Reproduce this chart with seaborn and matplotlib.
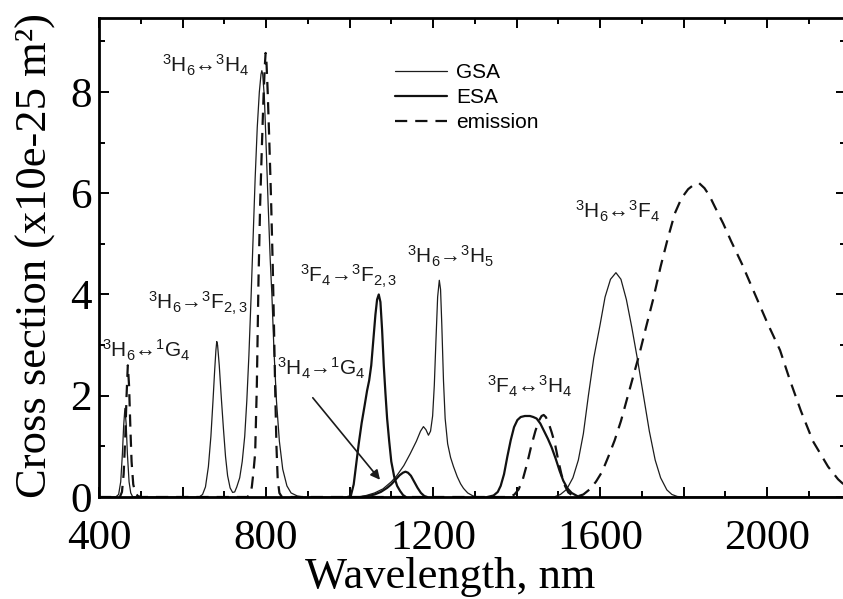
import matplotlib
matplotlib.use("Agg")
import matplotlib.pyplot as plt
from matplotlib.ticker import MultipleLocator, FuncFormatter
from matplotlib.lines import Line2D
import seaborn as sns

# ---- ground-state absorption (GSA), thin line ----
gsa_nm = [400, 440, 447, 452, 456, 459, 462, 465, 468, 472, 476, 481,
          640, 648, 655, 662, 668, 673, 677, 680, 682, 684, 688, 693, 698, 703, 708, 714, 720, 725,
          730, 737, 743, 749, 754, 759, 764, 769, 774, 779, 784, 788, 790, 792, 796, 800, 805, 810,
          814, 819, 825, 832, 840, 850, 860, 875, 890,
          1020, 1040, 1060, 1080, 1100, 1113, 1130, 1145, 1160, 1170, 1177, 1183, 1189, 1194, 1199,
          1203, 1207, 1211, 1215, 1218, 1221, 1225, 1229, 1235, 1242, 1249, 1258, 1266, 1273, 1283,
          1296, 1310,
          1490, 1505, 1520, 1535, 1548, 1560, 1572, 1585, 1600, 1612, 1625, 1638, 1650, 1663, 1676,
          1690, 1704, 1718, 1732, 1745, 1760, 1772, 1785, 1800, 2190]
gsa_val = [0, 0, 0.05, 0.3, 0.85, 1.4, 1.75, 1.45, 0.85, 0.3, 0.08, 0,
           0, 0.05, 0.2, 0.6, 1.2, 1.9, 2.5, 2.9, 3.07, 3.0, 2.6, 1.95, 1.35, 0.8, 0.42, 0.18, 0.09, 0.1,
           0.2, 0.38, 0.7, 1.2, 1.9, 2.8, 3.9, 5.1, 6.3, 7.3, 8.0, 8.35, 8.42, 8.35, 7.9, 7.0, 5.8, 4.7,
           4.0, 2.9, 1.9, 1.1, 0.55, 0.22, 0.08, 0.02, 0,
           0, 0.03, 0.08, 0.16, 0.3, 0.42, 0.62, 0.85, 1.1, 1.3, 1.39, 1.33, 1.22, 1.3, 1.6,
           2.2, 3.1, 3.95, 4.28, 4.1, 3.4, 2.3, 1.55, 1.05, 0.78, 0.6, 0.4, 0.26, 0.17, 0.08,
           0.02, 0,
           0, 0.05, 0.15, 0.38, 0.73, 1.25, 2.0, 2.75, 3.4, 3.95, 4.3, 4.43, 4.3, 3.9, 3.35,
           2.7, 2.0, 1.3, 0.73, 0.38, 0.14, 0.05, 0.01, 0, 0]

# ---- excited-state absorption (ESA), thick line ----
esa_f23_nm = [995, 1003, 1010, 1016, 1022, 1029, 1036, 1042, 1047, 1052, 1057, 1062, 1066, 1070,
              1074, 1078, 1082, 1086, 1090, 1095, 1100, 1107, 1114, 1121, 1128, 1135]
esa_f23_val = [0, 0.02, 0.25, 0.65, 1.05, 1.46, 1.8, 2.1, 2.3, 2.6, 3.1, 3.6, 3.9, 4.0,
               3.85, 3.3, 2.6, 2.05, 1.55, 1.1, 0.7, 0.4, 0.22, 0.12, 0.04, 0]

esa_g4_nm = [1030, 1045, 1060, 1075, 1090, 1100, 1110, 1120, 1128, 1134, 1140, 1147, 1155, 1163,
             1171, 1179, 1186]
esa_g4_val = [0, 0.02, 0.05, 0.1, 0.18, 0.25, 0.34, 0.43, 0.48, 0.5, 0.48, 0.42, 0.3, 0.18,
              0.08, 0.02, 0]

esa_h4_nm = [1330, 1345, 1355, 1362, 1370, 1378, 1386, 1394, 1402, 1410, 1420, 1432, 1440, 1448,
             1457, 1466, 1475, 1484, 1494, 1503, 1512, 1522, 1532, 1545, 1558]
esa_h4_val = [0, 0.03, 0.1, 0.22, 0.45, 0.8, 1.12, 1.38, 1.52, 1.58, 1.6, 1.6, 1.58, 1.55,
              1.45, 1.3, 1.15, 0.98, 0.75, 0.52, 0.32, 0.17, 0.08, 0.02, 0]

# ---- emission, dashed line ----
emis_nm = [400, 450, 455, 459, 463, 466, 469, 472, 475, 478, 482, 487, 493, 500,
           755, 762, 766, 770, 774, 778, 782, 786, 790, 794, 797, 799, 801, 804, 808, 812, 816,
           819, 822, 825, 828, 832, 838,
           1385, 1395, 1405, 1415, 1425, 1435, 1445, 1453, 1460, 1465, 1470, 1476, 1484, 1492,
           1500, 1508, 1516, 1524, 1534, 1545,
           1560, 1575, 1590, 1605, 1620, 1635, 1650, 1665, 1680, 1695, 1710, 1727, 1745, 1762,
           1779, 1795, 1811, 1825, 1837, 1850, 1862, 1875, 1895, 1914, 1940, 1966, 2000, 2031,
           2055, 2081, 2110, 2146, 2170, 2190]
emis_val = [0, 0, 0.1, 0.45, 1.2, 2.0, 2.6, 2.2, 1.4, 0.7, 0.25, 0.08, 0.02, 0,
            0, 0.05, 0.2, 0.5, 0.87, 2.2, 4.3, 5.8, 6.9, 7.9, 8.5, 8.77, 8.6, 8.0, 7.0, 5.9, 4.6,
            3.4, 2.1, 1.0, 0.35, 0.08, 0,
            0, 0.05, 0.15, 0.35, 0.65, 1.0, 1.3, 1.5, 1.6, 1.62, 1.58, 1.48, 1.28, 1.05,
            0.72, 0.43, 0.22, 0.09, 0.03, 0.01,
            0.05, 0.15, 0.3, 0.5, 0.8, 1.12, 1.5, 1.95, 2.4, 2.85, 3.35, 3.9, 4.55, 5.1,
            5.6, 5.9, 6.08, 6.17, 6.2, 6.1, 5.95, 5.73, 5.4, 5.05, 4.6, 4.1, 3.45, 2.9,
            2.3, 1.7, 1.1, 0.6, 0.35, 0.2]

# ---- transition labels: (text, wavelength, cross section) ----
transitions = [
    (r"$^3$H$_6$↔$^3$H$_4$", 551, 8.52),
    (r"$^3$H$_6$→$^3$F$_{2,3}$", 517, 3.83),
    (r"$^3$H$_6$↔$^1$G$_4$", 407, 2.89),
    (r"$^3$H$_4$→$^1$G$_4$", 826, 2.54),
    (r"$^3$F$_4$→$^3$F$_{2,3}$", 881, 4.36),
    (r"$^3$H$_6$→$^3$H$_5$", 1138, 4.75),
    (r"$^3$F$_4$↔$^3$H$_4$", 1329, 2.19),
    (r"$^3$H$_6$↔$^3$F$_4$", 1540, 5.64),
]
x_tick_labels = ["400", "800", "1200", "1600", "2000"]
y_tick_labels = ["0", "2", "4", "6", "8"]

sns.set_theme(style="ticks")
plt.rcParams.update({
    "font.family": ["Liberation Serif", "DejaVu Serif"],
    "mathtext.fontset": "custom",
    "mathtext.rm": "Liberation Sans",
    "mathtext.it": "Liberation Sans:italic",
    "mathtext.bf": "Liberation Sans:bold",
    "axes.linewidth": 2.0,
    "axes.edgecolor": "black",
    "text.color": "black",
    "axes.labelcolor": "black",
    "xtick.color": "black",
    "ytick.color": "black",
})

W, H = 843, 599
fig = plt.figure(figsize=(W / 100, H / 100), dpi=100)
fig.patch.set_facecolor("white")
ax = fig.add_axes([99 / W, (H - 497) / H, (846 - 99) / W, (497 - 18) / H])
ax.set_facecolor("white")

ink = "#111111"
thin = "#1c1c1c"
dash = (0, (5.5, 3.6))
sns.lineplot(x=gsa_nm, y=gsa_val, ax=ax, color=thin, linewidth=0.9, sort=False, estimator=None)
for nm, val in [(esa_f23_nm, esa_f23_val), (esa_g4_nm, esa_g4_val), (esa_h4_nm, esa_h4_val)]:
    sns.lineplot(x=nm, y=val, ax=ax, color=ink, linewidth=1.6, sort=False, estimator=None)
sns.lineplot(x=emis_nm, y=emis_val, ax=ax, color=ink, linewidth=1.6, sort=False,
             estimator=None, linestyle=dash)

ax.set_xlim(400, 2189)
ax.set_ylim(0, 9.46)

# ticks: inward on all four sides
ax.xaxis.set_major_locator(MultipleLocator(200))
ax.xaxis.set_minor_locator(MultipleLocator(100))
ax.yaxis.set_major_locator(MultipleLocator(2))
ax.yaxis.set_minor_locator(MultipleLocator(1))
xl = {int(s): s for s in x_tick_labels}
ax.xaxis.set_major_formatter(FuncFormatter(lambda v, p: xl.get(int(round(v)), "")))
yl = {int(s): s for s in y_tick_labels}
ax.yaxis.set_major_formatter(FuncFormatter(lambda v, p: yl.get(int(round(v)), "")))
ax.tick_params(which="both", direction="in", top=True, right=True, color="black",
               labelcolor="black")
ax.tick_params(which="major", length=7, width=1.4)
ax.tick_params(which="minor", length=4.5, width=1.4)
ax.tick_params(axis="x", which="major", pad=16, labelsize=31)
ax.tick_params(axis="y", which="major", pad=5, labelsize=31)
for sp in ax.spines.values():
    sp.set_visible(True)
    sp.set_linewidth(2.0)

ax.set_xlabel("Wavelength, nm", fontsize=32, color="black")
ax.xaxis.set_label_coords((450 - 99) / 747, -(557 - 497) / 479)
ax.set_ylabel("Cross section (x10e-25 m²)", fontsize=32, color="black")
ax.yaxis.set_label_coords((56 - 99) / 747, (497 - 255) / 479)

# transition labels
for txt, x, y in transitions:
    ax.text(x, y, txt, fontsize=15, color="#1a1a1a", ha="left", va="center",
            family=["Liberation Sans", "DejaVu Sans"])

ax.annotate("", xy=(1073, 0.34), xytext=(912, 1.96),
            arrowprops=dict(arrowstyle="-|>", color="#1a1a1a", lw=1.2, mutation_scale=14,
                            shrinkA=0, shrinkB=0))

# legend
handles = [
    Line2D([], [], color=thin, linewidth=0.9),
    Line2D([], [], color=ink, linewidth=1.6),
    Line2D([], [], color=ink, linewidth=1.6, linestyle=dash),
]
ax.legend(handles, ["GSA", "ESA", "emission"], loc="upper left",
          bbox_to_anchor=(395 / W, (H - 63) / H), bbox_transform=fig.transFigure,
          frameon=False, borderpad=0, borderaxespad=0, handlelength=2.5,
          handletextpad=0.45, labelspacing=0.3,
          prop={"family": "Liberation Sans", "size": 15})

fig.savefig("out.png", dpi=100, facecolor="white")
